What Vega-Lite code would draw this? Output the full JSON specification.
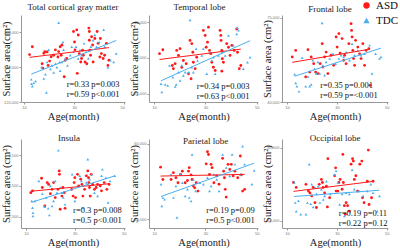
{
"$schema":"https://vega.github.io/schema/vega-lite/v6.json",
"padding":{"left":1,"top":0,"right":0,"bottom":0},
"background":"white",
"config":{
 "font":"Liberation Serif",
 "view":{"stroke":null},
 "axis":{"grid":false,"labelFontSize":4,"labelFont":"Liberation Sans","labelColor":"#777","tickSize":2,"tickColor":"#999","domainColor":"#999","labelPadding":1,"titleFont":"Liberation Serif","titleFontSize":10.5,"titleFontWeight":"normal","titleColor":"#222","titlePadding":2},
 "axisY":{"minExtent":8,"maxExtent":8},
 "title":{"font":"Liberation Serif","fontSize":9,"fontWeight":"normal","color":"#222"},
 "legend":{"orient":"none","legendX":340,"legendY":-15,"title":null,"symbolSize":40,"labelFont":"Liberation Serif","labelFontSize":11,"labelColor":"#111","rowPadding":3,"symbolStrokeWidth":0}
},
"datasets":{"pts":[
{"p":1,"g":"ASD","a":12.2,"s":174500},{"p":1,"g":"ASD","a":13.3,"s":183500},{"p":1,"g":"ASD","a":17.9,"s":176000},{"p":1,"g":"ASD","a":18.3,"s":178000},{"p":1,"g":"ASD","a":19.2,"s":177600},{"p":1,"g":"ASD","a":17.2,"s":164000},{"p":1,"g":"ASD","a":17.5,"s":159000},{"p":1,"g":"ASD","a":19.6,"s":162000},{"p":1,"g":"ASD","a":20.2,"s":167000},{"p":1,"g":"ASD","a":20.8,"s":172000},{"p":1,"g":"ASD","a":21.8,"s":173700},{"p":1,"g":"ASD","a":22.5,"s":180000},{"p":1,"g":"ASD","a":23.5,"s":171700},{"p":1,"g":"ASD","a":23.8,"s":178000},{"p":1,"g":"ASD","a":24.4,"s":183500},{"p":1,"g":"ASD","a":25.1,"s":185500},{"p":1,"g":"ASD","a":24.8,"s":173700},{"p":1,"g":"ASD","a":26.0,"s":149000},{"p":1,"g":"ASD","a":26.4,"s":168000},{"p":1,"g":"ASD","a":27.0,"s":170000},{"p":1,"g":"ASD","a":29.7,"s":201000},{"p":1,"g":"ASD","a":30.1,"s":189000},{"p":1,"g":"ASD","a":30.3,"s":180000},{"p":1,"g":"ASD","a":31.0,"s":203000},{"p":1,"g":"ASD","a":31.2,"s":153000},{"p":1,"g":"ASD","a":31.6,"s":197000},{"p":1,"g":"ASD","a":32.0,"s":175700},{"p":1,"g":"ASD","a":32.6,"s":166000},{"p":1,"g":"ASD","a":32.9,"s":170000},{"p":1,"g":"ASD","a":33.3,"s":179600},{"p":1,"g":"ASD","a":33.6,"s":173700},{"p":1,"g":"ASD","a":34.3,"s":166000},{"p":1,"g":"ASD","a":35.0,"s":164000},{"p":1,"g":"ASD","a":35.8,"s":205000},{"p":1,"g":"ASD","a":36.0,"s":201000},{"p":1,"g":"ASD","a":36.0,"s":191000},{"p":1,"g":"ASD","a":36.2,"s":179600},{"p":1,"g":"ASD","a":36.5,"s":173700},{"p":1,"g":"ASD","a":36.9,"s":195000},{"p":1,"g":"ASD","a":37.3,"s":185500},{"p":1,"g":"ASD","a":37.5,"s":166000},{"p":1,"g":"ASD","a":38.2,"s":193000},{"p":1,"g":"ASD","a":39.1,"s":201000},{"p":1,"g":"ASD","a":39.5,"s":187400},{"p":1,"g":"ASD","a":40.2,"s":171700},{"p":1,"g":"ASD","a":40.4,"s":193000},{"p":1,"g":"ASD","a":40.8,"s":175700},{"p":1,"g":"ASD","a":41.5,"s":170000},{"p":1,"g":"ASD","a":42.8,"s":187400},{"p":1,"g":"ASD","a":43.4,"s":162000},{"p":1,"g":"ASD","a":43.8,"s":168000},{"p":1,"g":"ASD","a":42.1,"s":173700},
{"p":1,"g":"TDC","a":12.9,"s":146000},{"p":1,"g":"TDC","a":13.0,"s":141000},{"p":1,"g":"TDC","a":13.3,"s":138000},{"p":1,"g":"TDC","a":13.9,"s":142000},{"p":1,"g":"TDC","a":14.6,"s":144000},{"p":1,"g":"TDC","a":17.0,"s":160000},{"p":1,"g":"TDC","a":17.9,"s":147000},{"p":1,"g":"TDC","a":18.5,"s":152000},{"p":1,"g":"TDC","a":18.9,"s":131000},{"p":1,"g":"TDC","a":19.2,"s":166000},{"p":1,"g":"TDC","a":19.8,"s":180000},{"p":1,"g":"TDC","a":20.5,"s":158000},{"p":1,"g":"TDC","a":21.1,"s":162000},{"p":1,"g":"TDC","a":21.8,"s":154000},{"p":1,"g":"TDC","a":22.5,"s":164000},{"p":1,"g":"TDC","a":23.1,"s":160000},{"p":1,"g":"TDC","a":23.8,"s":211000},{"p":1,"g":"TDC","a":24.2,"s":166000},{"p":1,"g":"TDC","a":24.4,"s":156000},{"p":1,"g":"TDC","a":25.1,"s":166000},{"p":1,"g":"TDC","a":25.5,"s":189000},{"p":1,"g":"TDC","a":25.7,"s":180000},{"p":1,"g":"TDC","a":26.4,"s":170000},{"p":1,"g":"TDC","a":27.3,"s":162000},{"p":1,"g":"TDC","a":28.4,"s":173700},{"p":1,"g":"TDC","a":29.0,"s":183500},{"p":1,"g":"TDC","a":29.7,"s":177600},{"p":1,"g":"TDC","a":30.7,"s":183500},{"p":1,"g":"TDC","a":31.6,"s":170000},{"p":1,"g":"TDC","a":32.3,"s":179600},{"p":1,"g":"TDC","a":32.9,"s":173700},{"p":1,"g":"TDC","a":33.9,"s":187400},{"p":1,"g":"TDC","a":34.7,"s":177600},{"p":1,"g":"TDC","a":35.6,"s":170000},{"p":1,"g":"TDC","a":36.6,"s":183500},{"p":1,"g":"TDC","a":37.5,"s":191000},{"p":1,"g":"TDC","a":38.2,"s":197000},{"p":1,"g":"TDC","a":38.9,"s":183500},{"p":1,"g":"TDC","a":39.9,"s":189000},{"p":1,"g":"TDC","a":41.7,"s":203000},{"p":1,"g":"TDC","a":42.1,"s":183500},{"p":1,"g":"TDC","a":43.4,"s":160000},{"p":1,"g":"TDC","a":44.4,"s":168000},{"p":1,"g":"TDC","a":45.7,"s":166000},{"p":1,"g":"TDC","a":46.7,"s":175700},
{"p":2,"g":"ASD","a":12.1,"s":36200},{"p":2,"g":"ASD","a":13.4,"s":37300},{"p":2,"g":"ASD","a":17.1,"s":32900},{"p":2,"g":"ASD","a":17.5,"s":32000},{"p":2,"g":"ASD","a":18.2,"s":33400},{"p":2,"g":"ASD","a":18.8,"s":37100},{"p":2,"g":"ASD","a":19.5,"s":35700},{"p":2,"g":"ASD","a":20.1,"s":37600},{"p":2,"g":"ASD","a":20.8,"s":32400},{"p":2,"g":"ASD","a":21.4,"s":34300},{"p":2,"g":"ASD","a":22.5,"s":33400},{"p":2,"g":"ASD","a":23.4,"s":30600},{"p":2,"g":"ASD","a":24.0,"s":39900},{"p":2,"g":"ASD","a":24.4,"s":29200},{"p":2,"g":"ASD","a":24.7,"s":39000},{"p":2,"g":"ASD","a":25.1,"s":36600},{"p":2,"g":"ASD","a":25.3,"s":33800},{"p":2,"g":"ASD","a":26.0,"s":32000},{"p":2,"g":"ASD","a":26.6,"s":35200},{"p":2,"g":"ASD","a":29.2,"s":42700},{"p":2,"g":"ASD","a":29.9,"s":41300},{"p":2,"g":"ASD","a":30.3,"s":38000},{"p":2,"g":"ASD","a":30.8,"s":39400},{"p":2,"g":"ASD","a":31.2,"s":43600},{"p":2,"g":"ASD","a":31.6,"s":37100},{"p":2,"g":"ASD","a":32.1,"s":36200},{"p":2,"g":"ASD","a":32.5,"s":33800},{"p":2,"g":"ASD","a":33.1,"s":32400},{"p":2,"g":"ASD","a":33.8,"s":31500},{"p":2,"g":"ASD","a":35.7,"s":42700},{"p":2,"g":"ASD","a":36.0,"s":41300},{"p":2,"g":"ASD","a":36.1,"s":39900},{"p":2,"g":"ASD","a":36.4,"s":37100},{"p":2,"g":"ASD","a":36.6,"s":34800},{"p":2,"g":"ASD","a":37.0,"s":33800},{"p":2,"g":"ASD","a":36.4,"s":31300},{"p":2,"g":"ASD","a":38.3,"s":39000},{"p":2,"g":"ASD","a":39.0,"s":38000},{"p":2,"g":"ASD","a":39.6,"s":35700},{"p":2,"g":"ASD","a":40.3,"s":38500},{"p":2,"g":"ASD","a":41.2,"s":37100},{"p":2,"g":"ASD","a":42.2,"s":43100},{"p":2,"g":"ASD","a":42.5,"s":36600},{"p":2,"g":"ASD","a":43.2,"s":32000},{"p":2,"g":"ASD","a":43.8,"s":32900},
{"p":2,"g":"TDC","a":12.7,"s":27800},{"p":2,"g":"TDC","a":13.0,"s":25500},{"p":2,"g":"TDC","a":14.3,"s":27600},{"p":2,"g":"TDC","a":15.3,"s":27300},{"p":2,"g":"TDC","a":16.0,"s":32900},{"p":2,"g":"TDC","a":17.3,"s":29600},{"p":2,"g":"TDC","a":18.2,"s":27000},{"p":2,"g":"TDC","a":18.6,"s":27600},{"p":2,"g":"TDC","a":19.5,"s":31000},{"p":2,"g":"TDC","a":20.1,"s":28700},{"p":2,"g":"TDC","a":20.8,"s":32900},{"p":2,"g":"TDC","a":21.4,"s":30100},{"p":2,"g":"TDC","a":22.1,"s":31000},{"p":2,"g":"TDC","a":23.4,"s":31000},{"p":2,"g":"TDC","a":24.0,"s":45600},{"p":2,"g":"TDC","a":24.7,"s":32400},{"p":2,"g":"TDC","a":25.3,"s":31000},{"p":2,"g":"TDC","a":26.4,"s":37600},{"p":2,"g":"TDC","a":26.9,"s":34300},{"p":2,"g":"TDC","a":28.6,"s":35700},{"p":2,"g":"TDC","a":29.2,"s":37600},{"p":2,"g":"TDC","a":30.5,"s":30600},{"p":2,"g":"TDC","a":31.6,"s":36600},{"p":2,"g":"TDC","a":32.5,"s":34300},{"p":2,"g":"TDC","a":33.1,"s":35200},{"p":2,"g":"TDC","a":33.8,"s":30600},{"p":2,"g":"TDC","a":35.1,"s":35700},{"p":2,"g":"TDC","a":36.4,"s":36600},{"p":2,"g":"TDC","a":37.7,"s":35700},{"p":2,"g":"TDC","a":39.0,"s":41300},{"p":2,"g":"TDC","a":40.9,"s":38500},{"p":2,"g":"TDC","a":42.2,"s":41700},{"p":2,"g":"TDC","a":42.5,"s":43400},{"p":2,"g":"TDC","a":42.9,"s":42700},{"p":2,"g":"TDC","a":44.8,"s":32000},{"p":2,"g":"TDC","a":46.4,"s":33800},{"p":2,"g":"TDC","a":47.4,"s":35200},
{"p":3,"g":"ASD","a":12.1,"s":58700},{"p":3,"g":"ASD","a":13.5,"s":61400},{"p":3,"g":"ASD","a":17.5,"s":50400},{"p":3,"g":"ASD","a":18.4,"s":61700},{"p":3,"g":"ASD","a":19.1,"s":52400},{"p":3,"g":"ASD","a":19.7,"s":58700},{"p":3,"g":"ASD","a":20.7,"s":55900},{"p":3,"g":"ASD","a":21.5,"s":52400},{"p":3,"g":"ASD","a":22.4,"s":51800},{"p":3,"g":"ASD","a":23.3,"s":55900},{"p":3,"g":"ASD","a":24.1,"s":64200},{"p":3,"g":"ASD","a":24.4,"s":54500},{"p":3,"g":"ASD","a":25.1,"s":58700},{"p":3,"g":"ASD","a":25.7,"s":60700},{"p":3,"g":"ASD","a":26.4,"s":51800},{"p":3,"g":"ASD","a":27.7,"s":59400},{"p":3,"g":"ASD","a":28.7,"s":55200},{"p":3,"g":"ASD","a":29.7,"s":67000},{"p":3,"g":"ASD","a":30.1,"s":62800},{"p":3,"g":"ASD","a":30.8,"s":68400},{"p":3,"g":"ASD","a":31.3,"s":60300},{"p":3,"g":"ASD","a":32.1,"s":66300},{"p":3,"g":"ASD","a":32.7,"s":57300},{"p":3,"g":"ASD","a":33.1,"s":59400},{"p":3,"g":"ASD","a":33.7,"s":55900},{"p":3,"g":"ASD","a":34.8,"s":64200},{"p":3,"g":"ASD","a":35.7,"s":72500},{"p":3,"g":"ASD","a":35.9,"s":69700},{"p":3,"g":"ASD","a":36.1,"s":67000},{"p":3,"g":"ASD","a":36.4,"s":61400},{"p":3,"g":"ASD","a":36.7,"s":58000},{"p":3,"g":"ASD","a":37.1,"s":55200},{"p":3,"g":"ASD","a":37.5,"s":65600},{"p":3,"g":"ASD","a":38.4,"s":62800},{"p":3,"g":"ASD","a":39.1,"s":60000},{"p":3,"g":"ASD","a":39.7,"s":58000},{"p":3,"g":"ASD","a":40.4,"s":64200},{"p":3,"g":"ASD","a":41.1,"s":55200},{"p":3,"g":"ASD","a":41.7,"s":61400},{"p":3,"g":"ASD","a":42.8,"s":62100},{"p":3,"g":"ASD","a":43.3,"s":46900},
{"p":3,"g":"TDC","a":13.1,"s":51500},{"p":3,"g":"TDC","a":13.5,"s":47900},{"p":3,"g":"TDC","a":14.0,"s":46500},{"p":3,"g":"TDC","a":14.8,"s":44400},{"p":3,"g":"TDC","a":16.1,"s":58400},{"p":3,"g":"TDC","a":17.5,"s":46500},{"p":3,"g":"TDC","a":18.4,"s":50600},{"p":3,"g":"TDC","a":19.1,"s":46500},{"p":3,"g":"TDC","a":19.7,"s":47300},{"p":3,"g":"TDC","a":20.4,"s":57300},{"p":3,"g":"TDC","a":21.1,"s":53800},{"p":3,"g":"TDC","a":21.7,"s":51800},{"p":3,"g":"TDC","a":22.4,"s":56600},{"p":3,"g":"TDC","a":23.1,"s":51800},{"p":3,"g":"TDC","a":24.1,"s":72800},{"p":3,"g":"TDC","a":24.4,"s":55200},{"p":3,"g":"TDC","a":25.1,"s":51100},{"p":3,"g":"TDC","a":25.7,"s":56600},{"p":3,"g":"TDC","a":27.1,"s":58000},{"p":3,"g":"TDC","a":28.4,"s":60000},{"p":3,"g":"TDC","a":29.5,"s":55900},{"p":3,"g":"TDC","a":30.8,"s":58000},{"p":3,"g":"TDC","a":31.7,"s":59400},{"p":3,"g":"TDC","a":32.7,"s":58700},{"p":3,"g":"TDC","a":33.7,"s":60700},{"p":3,"g":"TDC","a":35.1,"s":57300},{"p":3,"g":"TDC","a":36.1,"s":64200},{"p":3,"g":"TDC","a":37.1,"s":59400},{"p":3,"g":"TDC","a":38.4,"s":61400},{"p":3,"g":"TDC","a":39.7,"s":59400},{"p":3,"g":"TDC","a":41.1,"s":60000},{"p":3,"g":"TDC","a":43.1,"s":63500},{"p":3,"g":"TDC","a":44.1,"s":51800},{"p":3,"g":"TDC","a":45.5,"s":60000},{"p":3,"g":"TDC","a":47.1,"s":58000},{"p":3,"g":"TDC","a":47.7,"s":58700},
{"p":4,"g":"ASD","a":12.0,"s":3280},{"p":4,"g":"ASD","a":12.7,"s":3340},{"p":4,"g":"ASD","a":16.4,"s":3750},{"p":4,"g":"ASD","a":16.7,"s":3450},{"p":4,"g":"ASD","a":17.7,"s":2850},{"p":4,"g":"ASD","a":18.7,"s":3610},{"p":4,"g":"ASD","a":19.3,"s":3550},{"p":4,"g":"ASD","a":20.0,"s":3250},{"p":4,"g":"ASD","a":20.7,"s":3390},{"p":4,"g":"ASD","a":21.3,"s":3610},{"p":4,"g":"ASD","a":22.0,"s":3120},{"p":4,"g":"ASD","a":23.1,"s":3390},{"p":4,"g":"ASD","a":23.6,"s":3990},{"p":4,"g":"ASD","a":23.7,"s":3880},{"p":4,"g":"ASD","a":24.0,"s":2740},{"p":4,"g":"ASD","a":24.7,"s":3170},{"p":4,"g":"ASD","a":25.1,"s":3450},{"p":4,"g":"ASD","a":25.7,"s":3280},{"p":4,"g":"ASD","a":26.0,"s":2770},{"p":4,"g":"ASD","a":28.7,"s":3390},{"p":4,"g":"ASD","a":29.3,"s":3170},{"p":4,"g":"ASD","a":29.7,"s":3610},{"p":4,"g":"ASD","a":30.0,"s":3770},{"p":4,"g":"ASD","a":30.3,"s":3120},{"p":4,"g":"ASD","a":31.1,"s":3880},{"p":4,"g":"ASD","a":31.6,"s":3500},{"p":4,"g":"ASD","a":32.4,"s":3720},{"p":4,"g":"ASD","a":32.9,"s":3550},{"p":4,"g":"ASD","a":33.3,"s":3170},{"p":4,"g":"ASD","a":34.0,"s":3390},{"p":4,"g":"ASD","a":34.7,"s":3830},{"p":4,"g":"ASD","a":35.3,"s":3990},{"p":4,"g":"ASD","a":35.6,"s":3770},{"p":4,"g":"ASD","a":35.7,"s":3610},{"p":4,"g":"ASD","a":36.0,"s":3450},{"p":4,"g":"ASD","a":36.3,"s":3170},{"p":4,"g":"ASD","a":36.7,"s":3880},{"p":4,"g":"ASD","a":37.3,"s":3550},{"p":4,"g":"ASD","a":38.0,"s":3390},{"p":4,"g":"ASD","a":38.7,"s":3450},{"p":4,"g":"ASD","a":39.3,"s":3550},{"p":4,"g":"ASD","a":40.4,"s":3500},{"p":4,"g":"ASD","a":40.9,"s":3340},{"p":4,"g":"ASD","a":42.0,"s":3610},{"p":4,"g":"ASD","a":43.1,"s":3390},{"p":4,"g":"ASD","a":44.0,"s":3550},
{"p":4,"g":"TDC","a":12.4,"s":3010},{"p":4,"g":"TDC","a":12.7,"s":2790},{"p":4,"g":"TDC","a":12.9,"s":2630},{"p":4,"g":"TDC","a":12.9,"s":2520},{"p":4,"g":"TDC","a":13.7,"s":3010},{"p":4,"g":"TDC","a":15.3,"s":3660},{"p":4,"g":"TDC","a":16.7,"s":3250},{"p":4,"g":"TDC","a":17.7,"s":2820},{"p":4,"g":"TDC","a":18.3,"s":3120},{"p":4,"g":"TDC","a":19.1,"s":2770},{"p":4,"g":"TDC","a":19.6,"s":2550},{"p":4,"g":"TDC","a":20.0,"s":3500},{"p":4,"g":"TDC","a":20.7,"s":2850},{"p":4,"g":"TDC","a":21.3,"s":3010},{"p":4,"g":"TDC","a":22.0,"s":3660},{"p":4,"g":"TDC","a":22.7,"s":3280},{"p":4,"g":"TDC","a":23.3,"s":4660},{"p":4,"g":"TDC","a":24.0,"s":3450},{"p":4,"g":"TDC","a":24.7,"s":3280},{"p":4,"g":"TDC","a":25.3,"s":3120},{"p":4,"g":"TDC","a":26.0,"s":2900},{"p":4,"g":"TDC","a":28.9,"s":3880},{"p":4,"g":"TDC","a":30.0,"s":3010},{"p":4,"g":"TDC","a":31.1,"s":3500},{"p":4,"g":"TDC","a":32.0,"s":3830},{"p":4,"g":"TDC","a":32.7,"s":3660},{"p":4,"g":"TDC","a":33.3,"s":2790},{"p":4,"g":"TDC","a":34.7,"s":3610},{"p":4,"g":"TDC","a":35.3,"s":4370},{"p":4,"g":"TDC","a":36.0,"s":3720},{"p":4,"g":"TDC","a":36.9,"s":3880},{"p":4,"g":"TDC","a":38.0,"s":3280},{"p":4,"g":"TDC","a":39.3,"s":3170},{"p":4,"g":"TDC","a":40.9,"s":3830},{"p":4,"g":"TDC","a":41.3,"s":4040},{"p":4,"g":"TDC","a":42.7,"s":3770},{"p":4,"g":"TDC","a":43.6,"s":2960},{"p":4,"g":"TDC","a":44.4,"s":3660},{"p":4,"g":"TDC","a":46.3,"s":3830},
{"p":5,"g":"ASD","a":12.5,"s":50700},{"p":5,"g":"ASD","a":13.4,"s":45800},{"p":5,"g":"ASD","a":16.6,"s":45800},{"p":5,"g":"ASD","a":17.5,"s":48500},{"p":5,"g":"ASD","a":18.5,"s":46500},{"p":5,"g":"ASD","a":19.3,"s":44500},{"p":5,"g":"ASD","a":20.3,"s":47800},{"p":5,"g":"ASD","a":21.0,"s":49100},{"p":5,"g":"ASD","a":22.1,"s":44500},{"p":5,"g":"ASD","a":23.0,"s":45400},{"p":5,"g":"ASD","a":23.4,"s":49100},{"p":5,"g":"ASD","a":23.7,"s":50500},{"p":5,"g":"ASD","a":24.4,"s":47600},{"p":5,"g":"ASD","a":24.8,"s":45800},{"p":5,"g":"ASD","a":25.3,"s":43200},{"p":5,"g":"ASD","a":25.8,"s":42500},{"p":5,"g":"ASD","a":26.4,"s":44500},{"p":5,"g":"ASD","a":27.1,"s":41200},{"p":5,"g":"ASD","a":30.3,"s":52000},{"p":5,"g":"ASD","a":30.8,"s":56800},{"p":5,"g":"ASD","a":31.2,"s":55700},{"p":5,"g":"ASD","a":31.6,"s":47800},{"p":5,"g":"ASD","a":32.2,"s":51800},{"p":5,"g":"ASD","a":32.6,"s":50500},{"p":5,"g":"ASD","a":33.3,"s":44500},{"p":5,"g":"ASD","a":34.4,"s":47200},{"p":5,"g":"ASD","a":35.3,"s":43900},{"p":5,"g":"ASD","a":36.7,"s":54200},{"p":5,"g":"ASD","a":37.1,"s":49100},{"p":5,"g":"ASD","a":37.4,"s":46500},{"p":5,"g":"ASD","a":37.7,"s":41900},{"p":5,"g":"ASD","a":38.1,"s":38800},{"p":5,"g":"ASD","a":38.8,"s":51800},{"p":5,"g":"ASD","a":39.5,"s":49800},{"p":5,"g":"ASD","a":40.1,"s":51800},{"p":5,"g":"ASD","a":40.8,"s":47200},{"p":5,"g":"ASD","a":41.5,"s":49100},{"p":5,"g":"ASD","a":42.6,"s":46500},{"p":5,"g":"ASD","a":43.6,"s":55100},{"p":5,"g":"ASD","a":44.0,"s":47600},{"p":5,"g":"ASD","a":44.5,"s":41200},{"p":5,"g":"ASD","a":45.3,"s":41900},
{"p":5,"g":"TDC","a":12.7,"s":43900},{"p":5,"g":"TDC","a":13.0,"s":35300},{"p":5,"g":"TDC","a":13.4,"s":38600},{"p":5,"g":"TDC","a":14.1,"s":37900},{"p":5,"g":"TDC","a":16.6,"s":47800},{"p":5,"g":"TDC","a":17.5,"s":38600},{"p":5,"g":"TDC","a":18.5,"s":43200},{"p":5,"g":"TDC","a":18.9,"s":30700},{"p":5,"g":"TDC","a":20.3,"s":47800},{"p":5,"g":"TDC","a":21.0,"s":44500},{"p":5,"g":"TDC","a":22.1,"s":39200},{"p":5,"g":"TDC","a":23.0,"s":41900},{"p":5,"g":"TDC","a":23.7,"s":38600},{"p":5,"g":"TDC","a":24.4,"s":37300},{"p":5,"g":"TDC","a":24.8,"s":55700},{"p":5,"g":"TDC","a":25.3,"s":45800},{"p":5,"g":"TDC","a":26.2,"s":41200},{"p":5,"g":"TDC","a":27.8,"s":44500},{"p":5,"g":"TDC","a":29.2,"s":43900},{"p":5,"g":"TDC","a":30.8,"s":46500},{"p":5,"g":"TDC","a":31.6,"s":41200},{"p":5,"g":"TDC","a":32.2,"s":43200},{"p":5,"g":"TDC","a":33.3,"s":47800},{"p":5,"g":"TDC","a":34.4,"s":45800},{"p":5,"g":"TDC","a":35.3,"s":41200},{"p":5,"g":"TDC","a":36.7,"s":55700},{"p":5,"g":"TDC","a":38.1,"s":50500},{"p":5,"g":"TDC","a":39.5,"s":47200},{"p":5,"g":"TDC","a":40.4,"s":55700},{"p":5,"g":"TDC","a":41.5,"s":51800},{"p":5,"g":"TDC","a":43.6,"s":47800},{"p":5,"g":"TDC","a":44.5,"s":59000},{"p":5,"g":"TDC","a":45.3,"s":51800},{"p":5,"g":"TDC","a":48.1,"s":43900},{"p":5,"g":"TDC","a":49.0,"s":49400},
{"p":6,"g":"ASD","a":12.6,"s":24300},{"p":6,"g":"ASD","a":13.7,"s":23500},{"p":6,"g":"ASD","a":17.6,"s":24000},{"p":6,"g":"ASD","a":18.6,"s":22900},{"p":6,"g":"ASD","a":19.2,"s":22600},{"p":6,"g":"ASD","a":19.9,"s":22100},{"p":6,"g":"ASD","a":20.5,"s":23500},{"p":6,"g":"ASD","a":21.2,"s":21000},{"p":6,"g":"ASD","a":21.8,"s":20200},{"p":6,"g":"ASD","a":22.9,"s":24000},{"p":6,"g":"ASD","a":23.8,"s":24800},{"p":6,"g":"ASD","a":24.2,"s":24300},{"p":6,"g":"ASD","a":24.5,"s":23500},{"p":6,"g":"ASD","a":25.1,"s":22600},{"p":6,"g":"ASD","a":25.8,"s":23700},{"p":6,"g":"ASD","a":26.2,"s":20300},{"p":6,"g":"ASD","a":26.4,"s":28200},{"p":6,"g":"ASD","a":27.1,"s":21800},{"p":6,"g":"ASD","a":29.1,"s":25400},{"p":6,"g":"ASD","a":29.5,"s":26700},{"p":6,"g":"ASD","a":29.7,"s":22900},{"p":6,"g":"ASD","a":30.4,"s":22900},{"p":6,"g":"ASD","a":30.8,"s":24300},{"p":6,"g":"ASD","a":31.3,"s":24800},{"p":6,"g":"ASD","a":32.1,"s":23200},{"p":6,"g":"ASD","a":32.4,"s":28900},{"p":6,"g":"ASD","a":32.6,"s":24300},{"p":6,"g":"ASD","a":33.0,"s":20500},{"p":6,"g":"ASD","a":33.4,"s":19100},{"p":6,"g":"ASD","a":33.7,"s":21000},{"p":6,"g":"ASD","a":34.3,"s":20500},{"p":6,"g":"ASD","a":35.0,"s":19600},{"p":6,"g":"ASD","a":35.7,"s":27300},{"p":6,"g":"ASD","a":36.3,"s":28200},{"p":6,"g":"ASD","a":36.6,"s":27800},{"p":6,"g":"ASD","a":37.0,"s":24800},{"p":6,"g":"ASD","a":37.6,"s":25400},{"p":6,"g":"ASD","a":38.3,"s":22900},{"p":6,"g":"ASD","a":39.2,"s":27300},{"p":6,"g":"ASD","a":40.0,"s":27800},{"p":6,"g":"ASD","a":40.3,"s":21800},{"p":6,"g":"ASD","a":40.9,"s":21000},{"p":6,"g":"ASD","a":42.2,"s":24500},{"p":6,"g":"ASD","a":42.6,"s":29600},{"p":6,"g":"ASD","a":42.9,"s":20700},{"p":6,"g":"ASD","a":43.9,"s":21800},{"p":6,"g":"ASD","a":44.5,"s":24500},
{"p":6,"g":"TDC","a":12.9,"s":24300},{"p":6,"g":"TDC","a":13.3,"s":21000},{"p":6,"g":"TDC","a":13.7,"s":19600},{"p":6,"g":"TDC","a":14.6,"s":21300},{"p":6,"g":"TDC","a":15.5,"s":19100},{"p":6,"g":"TDC","a":17.6,"s":19100},{"p":6,"g":"TDC","a":18.2,"s":21000},{"p":6,"g":"TDC","a":18.9,"s":27300},{"p":6,"g":"TDC","a":19.5,"s":20800},{"p":6,"g":"TDC","a":19.9,"s":24000},{"p":6,"g":"TDC","a":20.5,"s":20300},{"p":6,"g":"TDC","a":21.2,"s":23500},{"p":6,"g":"TDC","a":21.8,"s":22400},{"p":6,"g":"TDC","a":22.5,"s":23700},{"p":6,"g":"TDC","a":23.2,"s":21000},{"p":6,"g":"TDC","a":23.8,"s":23200},{"p":6,"g":"TDC","a":24.5,"s":21500},{"p":6,"g":"TDC","a":25.1,"s":22100},{"p":6,"g":"TDC","a":25.8,"s":24500},{"p":6,"g":"TDC","a":27.4,"s":22400},{"p":6,"g":"TDC","a":29.1,"s":25600},{"p":6,"g":"TDC","a":29.7,"s":26200},{"p":6,"g":"TDC","a":30.4,"s":24300},{"p":6,"g":"TDC","a":31.1,"s":20700},{"p":6,"g":"TDC","a":32.1,"s":22400},{"p":6,"g":"TDC","a":33.0,"s":18800},{"p":6,"g":"TDC","a":33.7,"s":22600},{"p":6,"g":"TDC","a":35.0,"s":22400},{"p":6,"g":"TDC","a":36.1,"s":26400},{"p":6,"g":"TDC","a":37.0,"s":23200},{"p":6,"g":"TDC","a":38.9,"s":22900},{"p":6,"g":"TDC","a":40.5,"s":22100},{"p":6,"g":"TDC","a":42.2,"s":22900},{"p":6,"g":"TDC","a":43.6,"s":24000},{"p":6,"g":"TDC","a":44.5,"s":22600},{"p":6,"g":"TDC","a":46.2,"s":19600},{"p":6,"g":"TDC","a":47.1,"s":22100}
]},
"columns":3,
"spacing":{"row":37,"column":24},
"bounds":"flush",
"concat":[
{"width":104,"height":87,"title":{"text":"Total cortical gray matter","offset":3},
 "layer":[
  {"data":{"name":"pts"},"transform":[{"filter":"datum.p==1"}],"mark":{"type":"point","filled":true,"size":8,"opacity":1},
   "encoding":{"x":{"field":"a","type":"quantitative","scale":{"domain":[8.8,50.2],"nice":false,"zero":false},"axis":{"values":[10,15,20,25,30,35,40,45,50],"title":"Age(month)"}},
    "y":{"field":"s","type":"quantitative","scale":{"domain":[120000,220000],"nice":false,"zero":false},"axis":{"values":[120000,140000,160000,180000,200000,220000],"title":"Surface area(cm²)"}},
    "color":{"field":"g","type":"nominal","scale":{"domain":["ASD","TDC"],"range":["#ff1a1a","#4aaef0"]}},
    "shape":{"field":"g","type":"nominal","scale":{"domain":["ASD","TDC"],"range":["circle","triangle-up"]}}}},
  {"data":{"name":"pts"},"transform":[{"filter":"datum.p==1"},{"regression":"s","on":"a","groupby":["g"]}],"mark":{"type":"line","strokeWidth":1},
   "encoding":{"x":{"field":"a","type":"quantitative"},"y":{"field":"s","type":"quantitative"},"color":{"field":"g","type":"nominal"}}},
  {"data":{"values":[{}]},"mark":{"type":"text","align":"left","baseline":"top","fontSize":8.5,"lineHeight":10,"font":"Liberation Serif","color":"#111"},
   "encoding":{"x":{"datum":27},"y":{"datum":145300},"text":{"value":["r=0.33 p=0.003","r=0.59 p<0.001"]}}}
 ]},
{"width":109,"height":87,"title":{"text":"Temporal lobe","offset":3,"dx":-4},
 "layer":[
  {"data":{"name":"pts"},"transform":[{"filter":"datum.p==2"}],"mark":{"type":"point","filled":true,"size":8,"opacity":1},
   "encoding":{"x":{"field":"a","type":"quantitative","scale":{"domain":[8,50.5],"nice":false,"zero":false},"axis":{"values":[10,15,20,25,30,35,40,45,50],"title":"Age(month)"}},
    "y":{"field":"s","type":"quantitative","scale":{"domain":[22700,47000],"nice":false,"zero":false},"axis":{"values":[25000,30000,35000,40000,45000],"title":"Surface area(cm²)"}},
    "color":{"field":"g","type":"nominal"},"shape":{"field":"g","type":"nominal"}}},
  {"data":{"name":"pts"},"transform":[{"filter":"datum.p==2"},{"regression":"s","on":"a","groupby":["g"]}],"mark":{"type":"line","strokeWidth":1},
   "encoding":{"x":{"field":"a","type":"quantitative"},"y":{"field":"s","type":"quantitative"},"color":{"field":"g","type":"nominal"}}},
  {"data":{"values":[{}]},"mark":{"type":"text","align":"left","baseline":"top","fontSize":8.5,"lineHeight":10,"font":"Liberation Serif","color":"#111"},
   "encoding":{"x":{"datum":26.6},"y":{"datum":28300},"text":{"value":["r=0.34 p=0.003","r=0.63 p<0.001"]}}}
 ]},
{"width":106,"height":87,"title":{"text":"Frontal lobe","offset":1,"dx":-5},
 "layer":[
  {"data":{"name":"pts"},"transform":[{"filter":"datum.p==3"}],"mark":{"type":"point","filled":true,"size":8,"opacity":1},
   "encoding":{"x":{"field":"a","type":"quantitative","scale":{"domain":[8,50.5],"nice":false,"zero":false},"axis":{"values":[10,15,20,25,30,35,40,45,50],"title":"Age(month)"}},
    "y":{"field":"s","type":"quantitative","scale":{"domain":[40000,76100],"nice":false,"zero":false},"axis":{"values":[40000,45000,50000,55000,60000,65000,70000,75000],"title":"Surface area (cm²)"}},
    "color":{"field":"g","type":"nominal"},"shape":{"field":"g","type":"nominal"}}},
  {"data":{"name":"pts"},"transform":[{"filter":"datum.p==3"},{"regression":"s","on":"a","groupby":["g"]}],"mark":{"type":"line","strokeWidth":1},
   "encoding":{"x":{"field":"a","type":"quantitative"},"y":{"field":"s","type":"quantitative"},"color":{"field":"g","type":"nominal"}}},
  {"data":{"values":[{}]},"mark":{"type":"text","align":"left","baseline":"top","fontSize":8.5,"lineHeight":10,"font":"Liberation Serif","color":"#111"},
   "encoding":{"x":{"datum":23.3},"y":{"datum":48700},"text":{"value":["r=0.35 p=0.001","r=0.59 p=<0.001"]}}}
 ]},
{"width":104,"height":89,"title":{"text":"Insula","offset":-4,"dx":-4},
 "layer":[
  {"data":{"name":"pts"},"transform":[{"filter":"datum.p==4"}],"mark":{"type":"point","filled":true,"size":8,"opacity":1},
   "encoding":{"x":{"field":"a","type":"quantitative","scale":{"domain":[8,50.5],"nice":false,"zero":false},"axis":{"values":[10,15,20,25,30,35,40,45,50],"title":"Age(month)"}},
    "y":{"field":"s","type":"quantitative","scale":{"domain":[2130,5030],"nice":false,"zero":false},"axis":{"values":[2500,3000,3500,4000,4500,5000],"title":"Surface area (cm²)"}},
    "color":{"field":"g","type":"nominal"},"shape":{"field":"g","type":"nominal"}}},
  {"data":{"name":"pts"},"transform":[{"filter":"datum.p==4"},{"regression":"s","on":"a","groupby":["g"]}],"mark":{"type":"line","strokeWidth":1},
   "encoding":{"x":{"field":"a","type":"quantitative"},"y":{"field":"s","type":"quantitative"},"color":{"field":"g","type":"nominal"}}},
  {"data":{"values":[{}]},"mark":{"type":"text","align":"left","baseline":"top","fontSize":8.5,"lineHeight":10,"font":"Liberation Serif","color":"#111"},
   "encoding":{"x":{"datum":29.3},"y":{"datum":2850},"text":{"value":["r=0.3 p=0.008","r=0.5 p<0.001"]}}}
 ]},
{"width":109,"height":89,"title":{"text":"Parietal lobe","offset":-7,"dx":2},
 "layer":[
  {"data":{"name":"pts"},"transform":[{"filter":"datum.p==5"}],"mark":{"type":"point","filled":true,"size":8,"opacity":1},
   "encoding":{"x":{"field":"a","type":"quantitative","scale":{"domain":[8,50.5],"nice":false,"zero":false},"axis":{"values":[10,15,20,25,30,35,40,45,50],"title":"Age(month)"}},
    "y":{"field":"s","type":"quantitative","scale":{"domain":[26550,61860],"nice":false,"zero":false},"axis":{"values":[30000,35000,40000,45000,50000,55000,60000],"title":"Surface area (cm²)"}},
    "color":{"field":"g","type":"nominal"},"shape":{"field":"g","type":"nominal"}}},
  {"data":{"name":"pts"},"transform":[{"filter":"datum.p==5"},{"regression":"s","on":"a","groupby":["g"]}],"mark":{"type":"line","strokeWidth":1},
   "encoding":{"x":{"field":"a","type":"quantitative"},"y":{"field":"s","type":"quantitative"},"color":{"field":"g","type":"nominal"}}},
  {"data":{"values":[{}]},"mark":{"type":"text","align":"left","baseline":"top","fontSize":8.5,"lineHeight":10,"font":"Liberation Serif","color":"#111"},
   "encoding":{"x":{"datum":30.3},"y":{"datum":35300},"text":{"value":["r=0.19 p=0.09","r=0.5 p<0.001"]}}}
 ]},
{"width":106,"height":89,"title":{"text":"Occipital lobe","offset":-4},
 "layer":[
  {"data":{"name":"pts"},"transform":[{"filter":"datum.p==6"}],"mark":{"type":"point","filled":true,"size":8,"opacity":1},
   "encoding":{"x":{"field":"a","type":"quantitative","scale":{"domain":[8,50.5],"nice":false,"zero":false},"axis":{"values":[10,15,20,25,30,35,40,45,50],"title":"Age(month)"}},
    "y":{"field":"s","type":"quantitative","scale":{"domain":[16850,31420],"nice":false,"zero":false},"axis":{"values":[18000,20000,22000,24000,26000,28000,30000],"title":"Surface area (cm²)"}},
    "color":{"field":"g","type":"nominal"},"shape":{"field":"g","type":"nominal"}}},
  {"data":{"name":"pts"},"transform":[{"filter":"datum.p==6"},{"regression":"s","on":"a","groupby":["g"]}],"mark":{"type":"line","strokeWidth":1},
   "encoding":{"x":{"field":"a","type":"quantitative"},"y":{"field":"s","type":"quantitative"},"color":{"field":"g","type":"nominal"}}},
  {"data":{"values":[{}]},"mark":{"type":"text","align":"left","baseline":"top","fontSize":8.5,"lineHeight":10,"font":"Liberation Serif","color":"#111"},
   "encoding":{"x":{"datum":30.8},"y":{"datum":19900},"text":{"value":["r=0.19 p=0.11","r=0.22 p=0.12"]}}}
 ]}
]
}
